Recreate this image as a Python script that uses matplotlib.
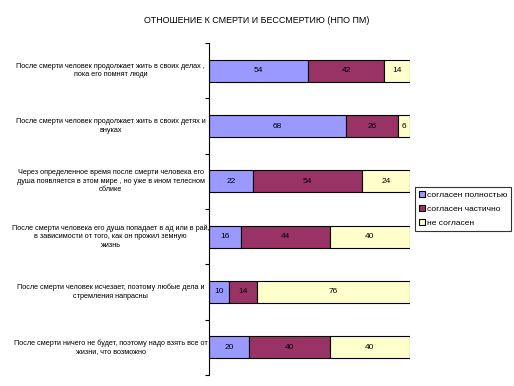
import matplotlib
matplotlib.use("Agg")
import matplotlib.pyplot as plt
import numpy as np

plt.rcParams["font.family"] = ["Liberation Sans", "DejaVu Sans"]

TITLE = "ОТНОШЕНИЕ К СМЕРТИ И БЕССМЕРТИЮ (НПО ПМ)"

statements = [
    "После смерти человек продолжает жить в своих делах ,\nпока его помнят люди",
    "После смерти человек продолжает жить в своих детях и\nвнуках",
    "Через определенное время после смерти человека его\nдуша появляется в этом мире , но уже в ином телесном\nоблике",
    "После смерти человека его душа попадает в ад или в рай,\nв зависимости от того, как он прожил земную\nжизнь",
    "После смерти человек исчезает, поэтому любые дела и\nстремления напрасны",
    "После смерти ничего не будет, поэтому надо взять все от\nжизни, что возможно",
]

series_names = ["согласен полностью", "согласен частично", "не согласен"]
full     = [54, 68, 22, 16, 10, 20]
partial  = [42, 26, 54, 44, 14, 40]
disagree = [14, 6, 24, 40, 76, 40]

colors = ["#9999FF", "#993366", "#FFFFCC"]

data = np.array([full, partial, disagree], dtype=float)
pct = data / data.sum(axis=0) * 100

fig = plt.figure(figsize=(5.14, 3.86), dpi=100)
ax = fig.add_axes([0.4066, 0.0285, 0.391, 0.8601])

y = np.arange(len(statements))
left = np.zeros(len(statements))
for i in range(3):
    bars = ax.barh(y, pct[i], left=left, height=0.4, color=colors[i],
                   edgecolor="black", linewidth=0.8, label=series_names[i])
    for b, v in zip(bars, data[i]):
        ax.text(b.get_x() + b.get_width() / 2, b.get_y() + b.get_height() / 2,
                f"{v:.0f}", ha="center", va="center", fontsize=6)
    left += pct[i]

ax.set_xlim(0, 100)
ax.set_ylim(len(statements) - 0.5, -0.5)
ax.set_yticks(np.arange(-0.5, len(statements)))
ax.set_yticklabels([])
ax.tick_params(axis="y", direction="out", length=3, width=0.8)
ax.set_xticks([])
for s in ["top", "right", "bottom"]:
    ax.spines[s].set_visible(False)
ax.spines["left"].set_linewidth(0.8)

for yi, s in zip(y, statements):
    ax.text(-0.49, yi, s, transform=ax.get_yaxis_transform(), ha="center", va="center",
            multialignment="center", fontsize=5.2, linespacing=1.3)

fig.text(0.5, 0.948, TITLE, ha="center", va="center", fontsize=6.4)

leg = ax.legend(loc="center left", bbox_to_anchor=(1.025, 0.5), fontsize=6,
                frameon=True, fancybox=False, edgecolor="black",
                handlelength=0.7, handleheight=0.7, handletextpad=0.3,
                borderpad=0.45, labelspacing=0.75, borderaxespad=0)
leg.get_frame().set_linewidth(0.8)

fig.savefig("out.png", dpi=100)
